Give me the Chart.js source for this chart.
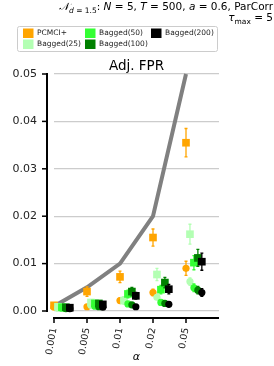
<!DOCTYPE html>
<html>
<head>
<meta charset="utf-8">
<script src="https://cdn.jsdelivr.net/npm/chart.js@4.4.1/dist/chart.umd.min.js"></script>
<style>
	html, body { margin: 0; padding: 0; background: #fff; }
	canvas { display: block; }
</style>
</head>
<body>
<canvas id="ChartAdjFPR" width="274" height="366"></canvas>
<script>
// --------------
// DATA
// --------------
const alphaLabels = ["0.001", "0.005", "0.01", "0.02", "0.05"];
const alphaLevels = [0.001, 0.005, 0.01, 0.02, 0.05];
const yTickValues = [0, 0.01, 0.02, 0.03, 0.04, 0.05];
const yTickLabels = ["0.00", "0.01", "0.02", "0.03", "0.04", "0.05"];

const methodNames = ["PCMCI+", "Bagged(25)", "Bagged(50)", "Bagged(100)", "Bagged(200)"];
const methodColors = ["#ffa500", "#b3ffb3", "#33ff33", "#008000", "#000000"];
const methodShift = [0, 0.12, 0.24, 0.36, 0.48];

// square markers (one row per method, one value per alpha)
const squareValues = [
	[0.0012, 0.0041, 0.0072, 0.0155, 0.0355],
	[0.0009, 0.0018, 0.0022, 0.0077, 0.0162],
	[0.0008, 0.0016, 0.0036, 0.0045, 0.0102],
	[0.0008, 0.0016, 0.0041, 0.0060, 0.0112],
	[0.0007, 0.0014, 0.0032, 0.0046, 0.0104],
];
const squareErrors = [
	[0.0004, 0.0010, 0.0012, 0.0018, 0.0030],
	[0.0003, 0.0006, 0.0008, 0.0013, 0.0021],
	[0.0003, 0.0005, 0.0008, 0.0009, 0.0015],
	[0.0003, 0.0005, 0.0009, 0.0011, 0.0018],
	[0.0003, 0.0005, 0.0007, 0.0010, 0.0018],
];

// circle markers
const circleValues = [
	[0.0008, 0.0009, 0.0022, 0.0039, 0.0090],
	[0.0006, 0.0012, 0.0024, 0.0029, 0.0062],
	[0.0006, 0.0010, 0.0015, 0.0018, 0.0049],
	[0.0005, 0.0009, 0.0013, 0.0016, 0.0044],
	[0.0005, 0.0008, 0.0009, 0.0014, 0.0039],
];
const circleErrors = [
	[0.0002, 0.0003, 0.0005, 0.0007, 0.0015],
	[0.0002, 0.0003, 0.0004, 0.0005, 0.0008],
	[0.0002, 0.0003, 0.0004, 0.0005, 0.0008],
	[0.0002, 0.0003, 0.0004, 0.0005, 0.0008],
	[0.0002, 0.0003, 0.0004, 0.0005, 0.0008],
];

const FONT = "'DejaVu Sans', sans-serif";
Chart.defaults.font.family = FONT;
Chart.defaults.color = "#222";

// --------------
// PLUGINS
// --------------

// error bars, drawn just under each dataset's markers
const errorBarsPlugin = {
	id: "errorBars",
	beforeDatasetDraw(chart, args) {
		const ds = chart.data.datasets[args.index];
		if (!ds.errors) return;
		const { ctx, scales } = chart;
		ctx.save();
		ctx.strokeStyle = ds.borderColor;
		ctx.lineWidth = 1.3;
		ds.data.forEach((p, i) => {
			const x = scales.x.getPixelForValue(p.x);
			const y1 = scales.y.getPixelForValue(p.y - ds.errors[i]);
			const y2 = scales.y.getPixelForValue(p.y + ds.errors[i]);
			ctx.beginPath();
			ctx.moveTo(x, y1);
			ctx.lineTo(x, y2);
			ctx.moveTo(x - 1.5, y1);
			ctx.lineTo(x + 1.5, y1);
			ctx.moveTo(x - 1.5, y2);
			ctx.lineTo(x + 1.5, y2);
			ctx.stroke();
		});
		ctx.restore();
	},
};

// offset spines like seaborn despine(offset)
const spinesPlugin = {
	id: "spines",
	afterDraw(chart) {
		const { ctx, chartArea, scales } = chart;
		ctx.save();
		ctx.strokeStyle = "#000";
		// y spine
		const sx = chartArea.left - 7;
		ctx.lineWidth = 2;
		ctx.beginPath();
		ctx.moveTo(sx, scales.y.getPixelForValue(0.05) - 1);
		ctx.lineTo(sx, scales.y.getPixelForValue(0) + 1);
		ctx.stroke();
		ctx.lineWidth = 1.5;
		yTickValues.forEach(v => {
			const y = scales.y.getPixelForValue(v);
			ctx.beginPath();
			ctx.moveTo(sx - 5, y);
			ctx.lineTo(sx, y);
			ctx.stroke();
		});
		// x spine
		const sy = chartArea.bottom + 7;
		ctx.lineWidth = 2;
		ctx.beginPath();
		ctx.moveTo(chartArea.left - 1, sy);
		ctx.lineTo(chartArea.right, sy);
		ctx.stroke();
		ctx.lineWidth = 1.5;
		alphaLabels.forEach((l, i) => {
			const x = scales.x.getPixelForValue(i);
			ctx.beginPath();
			ctx.moveTo(x, sy);
			ctx.lineTo(x, sy + 5);
			ctx.stroke();
		});
		ctx.restore();
	},
};

// draw a run of [text, style, size, dy] pieces ending at xRight
const drawPieces = (ctx, pieces, xRight, y) => {
	const widths = pieces.map(p => {
		ctx.font = `${p[1]} ${p[2]}px ${FONT}`;
		return ctx.measureText(p[0]).width;
	});
	let x = xRight - widths.reduce((a, b) => a + b, 0);
	pieces.forEach((p, i) => {
		ctx.font = `${p[1]} ${p[2]}px ${FONT}`;
		ctx.fillText(p[0], x, y + p[3]);
		x += widths[i];
	});
};

// figure title, legend and subplot title
const headerPlugin = {
	id: "header",
	afterDraw(chart) {
		const { ctx, chartArea } = chart;
		ctx.save();
		ctx.fillStyle = "#000";
		ctx.textBaseline = "alphabetic";
		ctx.textAlign = "left";
		drawPieces(ctx, [
			["𝒩", "italic", 10.5, 0],
			["d", "italic", 7.5, 2.5],
			[" = 1.5", "normal", 7.5, 2.5],
			[": ", "normal", 10.5, 0],
			["N", "italic", 10.5, 0],
			[" = 5, ", "normal", 10.5, 0],
			["T", "italic", 10.5, 0],
			[" = 500, ", "normal", 10.5, 0],
			["a", "italic", 10.5, 0],
			[" = 0.6, ParCorr", "normal", 10.5, 0],
		], 273, 10);
		drawPieces(ctx, [
			["τ", "italic", 10.5, 0],
			["max", "normal", 7.5, 2.5],
			[" = 5", "normal", 10.5, 0],
		], 273, 21);

		// legend box
		ctx.fillStyle = "rgba(255,255,255,0.8)";
		ctx.strokeStyle = "#cccccc";
		ctx.lineWidth = 1;
		ctx.beginPath();
		ctx.roundRect(17.5, 26.5, 200, 25, 2);
		ctx.fill();
		ctx.stroke();
		const colX = [23, 85, 151];
		const rowY = [28.5, 39.5];
		ctx.font = `7.5px ${FONT}`;
		ctx.textBaseline = "middle";
		methodNames.forEach((name, i) => {
			const cx = colX[Math.floor(i / 2)];
			const ry = rowY[i % 2];
			ctx.fillStyle = methodColors[i];
			ctx.fillRect(cx, ry, 10.5, 9.5);
			ctx.fillStyle = "#222";
			ctx.fillText(name, cx + 14, ry + 5);
		});

		// subplot title
		ctx.font = `13.5px ${FONT}`;
		ctx.textAlign = "center";
		ctx.textBaseline = "alphabetic";
		ctx.fillStyle = "#000";
		ctx.fillText("Adj. FPR", (chartArea.left + chartArea.right) / 2, 70);
		ctx.restore();
	},
};

// --------------
// DATASETS
// --------------
const markerSets = [];
methodNames.forEach((name, m) => {
	markerSets.push({
		label: name,
		data: squareValues[m].map((v, i) => ({ x: i + methodShift[m], y: v })),
		errors: squareErrors[m],
		pointStyle: "rect",
		pointRadius: 5.4,
		backgroundColor: methodColors[m],
		borderColor: methodColors[m],
		borderWidth: 0,
		order: 9 - m * 2,
		clip: false,
	});
	markerSets.push({
		label: name,
		data: circleValues[m].map((v, i) => ({ x: i + methodShift[m], y: v })),
		errors: circleErrors[m],
		pointStyle: "circle",
		pointRadius: 3.6,
		backgroundColor: methodColors[m],
		borderColor: methodColors[m],
		borderWidth: 0,
		order: 8 - m * 2,
		clip: false,
	});
});

const dataAdjFPR = {
	datasets: [
		...markerSets,
		{
			label: "alpha",
			data: alphaLevels.map((a, i) => ({ x: i, y: a })),
			showLine: true,
			borderColor: "#808080",
			borderWidth: 4,
			pointRadius: 0,
			order: 20,
			clip: false,
		},
	],
};

const configAdjFPR = {
	type: "scatter",
	data: dataAdjFPR,
	options: {
		responsive: false,
		animation: false,
		devicePixelRatio: 1,
		layout: { padding: { top: 74, right: 55, left: 0, bottom: 0 } },
		plugins: {
			legend: { display: false },
			title: { display: false },
			tooltip: { enabled: false },
		},
		scales: {
			x: {
				type: "linear",
				min: 0,
				max: 5,
				afterBuildTicks: (s) => { s.ticks = alphaLabels.map((l, i) => ({ value: i })); },
				afterFit: (s) => { s.height = 55; },
				ticks: {
					callback: (v) => alphaLabels[v],
					autoSkip: false,
					minRotation: 80,
					maxRotation: 80,
					padding: 8,
					font: { size: 9.5 },
				},
				grid: { display: false },
				border: { display: false },
				title: {
					display: true,
					text: "α",
					color: "#000",
					font: { size: 11, style: "italic" },
					padding: { top: 0, bottom: 2 },
				},
			},
			y: {
				min: 0,
				max: 0.05,
				afterBuildTicks: (s) => { s.ticks = yTickValues.map(v => ({ value: v })); },
				afterFit: (s) => { s.width = 54; },
				ticks: {
					callback: (v, i) => yTickLabels[i],
					padding: 17,
					font: { size: 11 },
				},
				grid: { color: "#cccccc", lineWidth: 1.2, drawTicks: false },
				border: { display: false },
			},
		},
	},
	plugins: [errorBarsPlugin, spinesPlugin, headerPlugin],
};

const ChartAdjFPR = new Chart(
	document.getElementById("ChartAdjFPR"),
	configAdjFPR
);
</script>
</body>
</html>
